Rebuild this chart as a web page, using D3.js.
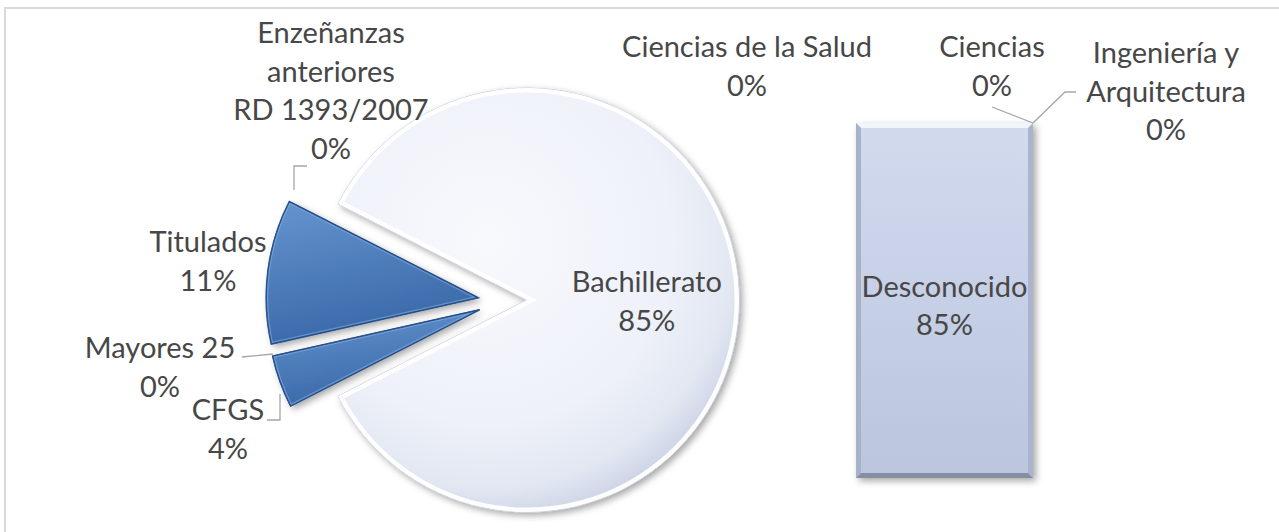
<!DOCTYPE html>
<html>
<head>
<meta charset="utf-8">
<script src="https://cdn.jsdelivr.net/npm/d3@7"></script>
<style>
  body { margin: 0; background: #fff; }
  text { font-family: Lato, "Open Sans", sans-serif; font-size: 29px; fill: #474747; }
</style>
</head>
<body>
<div id="chart"></div>
<script>
// pie categories, drawn clockwise starting from the lower-left gap
var sliceNames = ["CFGS", "Mayores 25", "Titulados", "Enzeñanzas\nanteriores\nRD 1393/2007", "Bachillerato"];
var sliceValues = [4, 0, 11, 0, 85];

// stacked bar, bottom to top
var barNames = ["Desconocido", "Ciencias de la Salud", "Ciencias", "Ingeniería y\nArquitectura"];
var barValues = [85, 0, 0, 0];

var width = 1279, height = 532;
var cx = 527, cy = 300, radius = 212;
var explode = 26, groupShift = [-23, 1];
var lineH = 38.5;
var barX = 856, barW = 177, barTop = 123, barBottom = 478, bevel = 5;

// label placement for the outside labels (x = centre, y = first baseline)
var pieLabelPos = {
  "CFGS": {x: 228, y: 420, leader: [[267, 420], [280, 420], [280, 394]]},
  "Mayores 25": {x: 160, y: 358, leader: [[242, 357], [273, 354]]},
  "Titulados": {x: 208, y: 252},
  "Enzeñanzas\nanteriores\nRD 1393/2007": {x: 331, y: 43, leader: [[307, 166], [294, 166], [294, 190]]}
};
var barLabelPos = {
  "Ciencias de la Salud": {x: 747, y: 57},
  "Ciencias": {x: 992, y: 57, leader: [[992, 107]]},
  "Ingeniería y\nArquitectura": {x: 1166, y: 63, leader: [[1076, 92], [1065, 92]]}
};

var pct = d3.format(".0%");

var svg = d3.select("#chart").append("svg")
  .attr("width", width)
  .attr("height", height);

var defs = svg.append("defs");

var shadow = defs.append("filter").attr("id", "shadow")
  .attr("x", "-10%").attr("y", "-10%").attr("width", "130%").attr("height", "130%");
shadow.append("feDropShadow")
  .attr("dx", 3).attr("dy", 3).attr("stdDeviation", 3.5)
  .attr("flood-color", "#000").attr("flood-opacity", 0.35);

// gradient coords are local to the translated pie group
var mainGrad = defs.append("radialGradient").attr("id", "mainGrad")
  .attr("gradientUnits", "userSpaceOnUse")
  .attr("cx", -40).attr("cy", -60).attr("r", radius + 70);
mainGrad.append("stop").attr("offset", "0%").attr("stop-color", "#f8f9fd");
mainGrad.append("stop").attr("offset", "65%").attr("stop-color", "#eef1f9");
mainGrad.append("stop").attr("offset", "88%").attr("stop-color", "#e2e7f2");
mainGrad.append("stop").attr("offset", "100%").attr("stop-color", "#cdd4e6");

var blueGrad = defs.append("linearGradient").attr("id", "blueGrad")
  .attr("x1", 0).attr("y1", 0).attr("x2", 0.3).attr("y2", 1);
blueGrad.append("stop").attr("offset", "0%").attr("stop-color", "#6595d0");
blueGrad.append("stop").attr("offset", "100%").attr("stop-color", "#3968a8");

var barGrad = defs.append("linearGradient").attr("id", "barGrad")
  .attr("x1", 0).attr("y1", 0).attr("x2", 0).attr("y2", 1);
barGrad.append("stop").attr("offset", "0%").attr("stop-color", "#d2daee");
barGrad.append("stop").attr("offset", "100%").attr("stop-color", "#bac5de");

// chart frame
svg.append("rect")
  .attr("x", 5).attr("y", 8)
  .attr("width", width + 20).attr("height", height + 20)
  .attr("fill", "#fff")
  .attr("stroke", "#d9d9d9")
  .attr("stroke-width", 2);

/* Pie */
var total = d3.sum(sliceValues);
var otherShare = (total - sliceValues[sliceValues.length - 1]) / total;
var a0 = 1.5 * Math.PI - Math.PI * otherShare;

var pie = d3.pie().sort(null).value(d => d.value)
  .startAngle(a0).endAngle(a0 + 2 * Math.PI);

var slices = pie(sliceNames.map((n, i) => ({name: n, value: sliceValues[i], main: i === sliceNames.length - 1})));

var arc = d3.arc().innerRadius(0).outerRadius(radius);

function offset(d) {
  if (d.data.main) return [0, 0];
  var m = (d.startAngle + d.endAngle) / 2;
  return [groupShift[0] + explode * Math.sin(m), groupShift[1] - explode * Math.cos(m)];
}

var pieG = svg.append("g").attr("transform", `translate(${cx},${cy})`);

var sliceG = pieG.selectAll(".slice")
  .data(slices.filter(d => d.value > 0)).enter()
  .append("g")
  .attr("class", "slice")
  .attr("transform", d => `translate(${offset(d)[0]},${offset(d)[1]})`);

sliceG.each(function(d, i) {
  var g = d3.select(this);
  var id = "clipSlice" + i;
  g.append("clipPath").attr("id", id).append("path").attr("d", arc(d));
  g.append("path")
    .attr("d", arc(d))
    .attr("fill", d.data.main ? "url(#mainGrad)" : "url(#blueGrad)")
    .attr("stroke", d.data.main ? "#c3cada" : "#2d5a90")
    .attr("stroke-width", 1)
    .attr("filter", "url(#shadow)");
  // bevel rim
  g.append("path")
    .attr("d", arc(d))
    .attr("fill", "none")
    .attr("stroke", d.data.main ? "#ffffff" : "#85aee0")
    .attr("stroke-opacity", d.data.main ? 0.95 : 0.6)
    .attr("stroke-width", d.data.main ? 9 : 4)
    .attr("clip-path", `url(#${id})`);
  if (!d.data.main) {
    g.append("path")
      .attr("d", arc(d))
      .attr("fill", "none")
      .attr("stroke", "#26508a")
      .attr("stroke-width", 1.5);
  }
});

/* Bar */
var barTotal = d3.sum(barValues);
var y = d3.scaleLinear().domain([0, barTotal]).range([barBottom, barTop]);
var cum = 0;
var stack = barNames.map(function(n, i) {
  var s = {name: n, value: barValues[i], y0: cum, y1: cum + barValues[i]};
  cum += barValues[i];
  return s;
});

var leader = d3.line();

var barG = svg.append("g").attr("class", "bar");
stack.filter(d => d.value > 0).forEach(function(d) {
  var x0 = barX, x1 = barX + barW, yt = y(d.y1), yb = y(d.y0), b = bevel;
  barG.append("rect")
    .attr("x", x0).attr("y", yt)
    .attr("width", barW).attr("height", yb - yt)
    .attr("fill", "url(#barGrad)")
    .attr("filter", "url(#shadow)");
  var faces = [
    {pts: [[x0, yt], [x1, yt], [x1 - b, yt + b], [x0 + b, yt + b]], fill: "#f2f5fb"},
    {pts: [[x0, yt], [x0 + b, yt + b], [x0 + b, yb - b], [x0, yb]], fill: "#a7b2ca"},
    {pts: [[x1, yt], [x1, yb], [x1 - b, yb - b], [x1 - b, yt + b]], fill: "#aab5cc"},
    {pts: [[x0, yb], [x0 + b, yb - b], [x1 - b, yb - b], [x1, yb]], fill: "#858ea2"}
  ];
  faces.forEach(function(f) {
    barG.append("path").attr("d", leader(f.pts) + "Z").attr("fill", f.fill);
  });
});

/* Labels */
var labelLayer = svg.append("g");

function writeLabel(x, y, name, value) {
  var lines = name.split("\n").concat([pct(value)]);
  var t = labelLayer.append("text").attr("text-anchor", "middle");
  lines.forEach(function(s, k) {
    t.append("tspan").attr("x", x).attr("y", y + k * lineH).text(s);
  });
}

function drawLeader(pts) {
  labelLayer.append("path")
    .attr("d", leader(pts))
    .attr("fill", "none")
    .attr("stroke", "#a6a6a6")
    .attr("stroke-width", 1.3);
}

slices.forEach(function(d) {
  if (d.data.main) {
    var c = d3.arc().innerRadius(radius * 0.565).outerRadius(radius * 0.565).centroid(d);
    writeLabel(cx + c[0], cy + c[1] - 8, d.data.name, d.value / total);
  } else {
    var p = pieLabelPos[d.data.name];
    if (p.leader) drawLeader(p.leader);
    writeLabel(p.x, p.y, d.data.name, d.value / total);
  }
});

// bar percentages are shares of the whole chart total
stack.forEach(function(d) {
  if (d.value > 0) {
    var mid = (y(d.y0) + y(d.y1)) / 2;
    writeLabel(barX + barW / 2, mid - 4, d.name, d.value / total);
  } else {
    var p = barLabelPos[d.name];
    if (p.leader) drawLeader(p.leader.concat([[barX + barW, y(d.y1)]]));
    writeLabel(p.x, p.y, d.name, d.value / total);
  }
});
</script>
</body>
</html>
